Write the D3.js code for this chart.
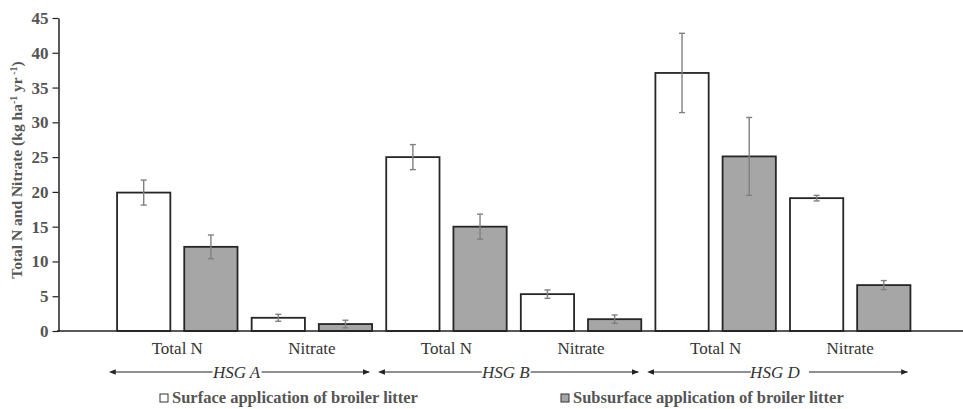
<!DOCTYPE html>
<html>
<head>
<meta charset="utf-8">
<script src="https://cdn.jsdelivr.net/npm/d3@7"></script>
<style>
  body { margin: 0; background: #fff; }
  text { font-family: 'Liberation Serif', 'Times New Roman', serif; }
</style>
</head>
<body>
<div id="container"></div>
<script>
var groups = ['HSG A', 'HSG A', 'HSG B', 'HSG B', 'HSG D', 'HSG D'],
    categories = ['Total N', 'Nitrate', 'Total N', 'Nitrate', 'Total N', 'Nitrate'],
    surfaceValues = [19.9, 1.9, 25.0, 5.3, 37.1, 19.1],
    surfaceErrors = [1.8, 0.5, 1.8, 0.6, 5.7, 0.4],
    subsurfaceValues = [12.1, 1.0, 15.0, 1.7, 25.1, 6.6],
    subsurfaceErrors = [1.7, 0.55, 1.8, 0.6, 5.6, 0.65],
    yTicks = [0, 5, 10, 15, 20, 25, 30, 35, 40, 45],
    hsgLabels = ['HSG A', 'HSG B', 'HSG D'],
    seriesNames = ['Surface application of broiler litter', 'Subsurface application of broiler litter'],
    seriesKeys = ['surface', 'subsurface'],
    fills = ['#ffffff', '#a6a6a6'];

var width = 963,
    height = 409,
    svg, x0, x1, y, keys, rows;

keys = categories.map(function (c, i) { return groups[i] + '|' + c; });

rows = keys.map(function (k, i) {
  return {
    key: k,
    group: groups[i],
    bars: [
      { series: 'surface', value: surfaceValues[i], err: surfaceErrors[i] },
      { series: 'subsurface', value: subsurfaceValues[i], err: subsurfaceErrors[i] }
    ]
  };
});

svg = d3.select('#container').append('svg')
  .attr('width', width)
  .attr('height', height);

x0 = d3.scaleBand()
  .domain(keys)
  .range([110, 917.5])
  .paddingInner(0.105)
  .paddingOuter(0.0525);

x1 = d3.scaleBand()
  .domain(seriesKeys)
  .range([0, x0.bandwidth()])
  .paddingInner(0.207);

y = d3.scaleLinear()
  .domain([0, 45])
  .range([331, 18]);

// y axis
var yAxis = svg.append('g')
  .attr('transform', 'translate(58.5,0)')
  .call(d3.axisLeft(y).tickValues(yTicks).tickSize(6).tickSizeOuter(0).tickPadding(4));
yAxis.select('.domain').attr('stroke', '#222').attr('stroke-width', 1.5);
yAxis.selectAll('.tick line').attr('stroke', '#222').attr('stroke-width', 1.2);
yAxis.selectAll('.tick text')
  .attr('fill', '#555')
  .style('font-size', '17px')
  .style('font-weight', 'bold')
  .style('font-family', "'Liberation Serif', serif");

// bars
var cat = svg.selectAll('g.cat')
  .data(rows)
  .enter()
  .append('g')
  .attr('class', 'cat')
  .attr('transform', function (d) { return 'translate(' + x0(d.key) + ',0)'; });

cat.selectAll('rect')
  .data(function (d) { return d.bars; })
  .enter()
  .append('rect')
  .attr('x', function (d) { return x1(d.series); })
  .attr('y', function (d) { return y(d.value); })
  .attr('width', x1.bandwidth())
  .attr('height', function (d) { return y(0) - y(d.value); })
  .attr('fill', function (d) { return fills[seriesKeys.indexOf(d.series)]; })
  .attr('stroke', '#262626')
  .attr('stroke-width', 1.8);

// error bars
var err = cat.selectAll('g.err')
  .data(function (d) { return d.bars; })
  .enter()
  .append('g')
  .attr('class', 'err')
  .attr('stroke', '#808080')
  .attr('stroke-width', 1.4);

err.append('line')
  .attr('x1', function (d) { return x1(d.series) + x1.bandwidth() / 2; })
  .attr('x2', function (d) { return x1(d.series) + x1.bandwidth() / 2; })
  .attr('y1', function (d) { return y(d.value + d.err); })
  .attr('y2', function (d) { return y(d.value - d.err); });

[1, -1].forEach(function (s) {
  err.append('line')
    .attr('x1', function (d) { return x1(d.series) + x1.bandwidth() / 2 - 3; })
    .attr('x2', function (d) { return x1(d.series) + x1.bandwidth() / 2 + 3; })
    .attr('y1', function (d) { return y(d.value + s * d.err); })
    .attr('y2', function (d) { return y(d.value + s * d.err); });
});

// x axis line
svg.append('line')
  .attr('x1', 57).attr('x2', width)
  .attr('y1', y(0)).attr('y2', y(0))
  .attr('stroke', '#222')
  .attr('stroke-width', 1.5);

// category labels
svg.selectAll('text.cat-label')
  .data(rows)
  .enter()
  .append('text')
  .attr('class', 'cat-label')
  .attr('x', function (d) { return x0(d.key) + x0.bandwidth() / 2; })
  .attr('y', 354)
  .attr('text-anchor', 'middle')
  .attr('fill', '#333')
  .style('font-size', '17px')
  .text(function (d, i) { return categories[i]; });

// HSG arrows
var defs = svg.append('defs');
['start', 'end'].forEach(function (k) {
  defs.append('marker')
    .attr('id', 'arrow-' + k)
    .attr('viewBox', '0 0 10 10')
    .attr('refX', k === 'end' ? 9 : 1)
    .attr('refY', 5)
    .attr('markerWidth', 7)
    .attr('markerHeight', 7)
    .attr('markerUnits', 'userSpaceOnUse')
    .attr('orient', 'auto-start-reverse')
    .append('path')
    .attr('d', 'M0,1 L10,5 L0,9 z')
    .attr('fill', '#222');
});

var hsg = svg.selectAll('g.hsg')
  .data(hsgLabels)
  .enter()
  .append('g')
  .attr('class', 'hsg');

function groupLeft(g) {
  var k = keys[groups.indexOf(g)];
  return x0(k) + x1(seriesKeys[0]);
}
function groupRight(g) {
  var k = keys[groups.lastIndexOf(g)];
  return x0(k) + x1(seriesKeys[1]) + x1.bandwidth();
}

hsg.append('line')
  .attr('x1', function (d) { return groupLeft(d) - 2; })
  .attr('x2', function (d) { return groupRight(d) - 3; })
  .attr('y1', 372).attr('y2', 372)
  .attr('stroke', '#222')
  .attr('stroke-width', 1)
  .attr('marker-start', 'url(#arrow-start)')
  .attr('marker-end', 'url(#arrow-end)');

hsg.append('rect')
  .attr('x', function (d, i) { return (groupLeft(d) + groupRight(d)) / 2 - 8 - 24; })
  .attr('y', 363)
  .attr('width', function (d, i) { return i === 2 ? 58 : 49; })
  .attr('height', 17)
  .attr('fill', '#fff');

hsg.append('text')
  .attr('x', function (d) { return (groupLeft(d) + groupRight(d)) / 2 - 8; })
  .attr('y', 378)
  .attr('text-anchor', 'middle')
  .attr('fill', '#333')
  .style('font-size', '17px')
  .style('font-style', 'italic')
  .text(function (d) { return d; });

// legend
var legendX = [160, 561];
var legend = svg.selectAll('g.legend')
  .data(seriesNames)
  .enter()
  .append('g')
  .attr('class', 'legend')
  .attr('transform', function (d, i) { return 'translate(' + legendX[i] + ',394)'; });

legend.append('rect')
  .attr('width', 8).attr('height', 8)
  .attr('fill', function (d, i) { return fills[i]; })
  .attr('stroke', '#333')
  .attr('stroke-width', 1);

legend.append('text')
  .attr('x', 12)
  .attr('y', 8.5)
  .attr('fill', '#555')
  .style('font-size', '16.5px')
  .style('font-weight', 'bold')
  .text(function (d) { return d; });

// y title
svg.append('text')
  .attr('transform', 'translate(22,170) rotate(-90)')
  .attr('text-anchor', 'middle')
  .attr('fill', '#555')
  .style('font-size', '15.5px')
  .style('font-weight', 'bold')
  .html('Total N and Nitrate (kg ha<tspan dy="-5" font-size="10px">-1</tspan><tspan dy="5"> yr</tspan><tspan dy="-5" font-size="10px"> -1</tspan><tspan dy="5">)</tspan>');
</script>
</body>
</html>
